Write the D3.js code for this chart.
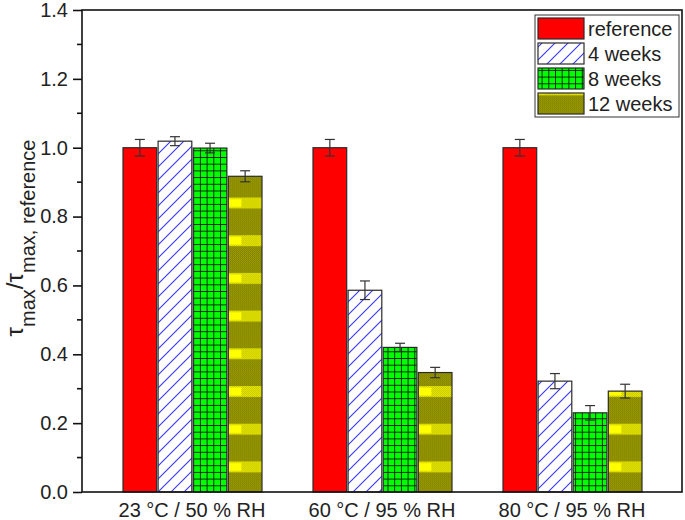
<!DOCTYPE html>
<html><head><meta charset="utf-8">
<script src="https://cdn.jsdelivr.net/npm/d3@7"></script>
<style>body{margin:0;background:#fff}svg{display:block;font-family:"Liberation Sans",Arial,sans-serif}</style>
</head><body><svg id="c" width="685" height="520"></svg>
<script>
const categories = ["23 °C / 50 % RH", "60 °C / 95 % RH", "80 °C / 95 % RH"];
const series = ["reference", "4 weeks", "8 weeks", "12 weeks"];
const refVals = [1.0, 1.0, 1.0];
const refErr = [0.024, 0.024, 0.024];
const w4Vals = [1.019, 0.586, 0.322];
const w4Err = [0.013, 0.027, 0.022];
const w8Vals = [0.999, 0.42, 0.23];
const w8Err = [0.014, 0.012, 0.021];
const w12Vals = [0.917, 0.347, 0.293];
const w12Err = [0.016, 0.015, 0.02];
const yTicks = [0, 0.2, 0.4, 0.6, 0.8, 1.0, 1.2, 1.4];

const valsBySeries = [refVals, w4Vals, w8Vals, w12Vals];
const errsBySeries = [refErr, w4Err, w8Err, w12Err];

const svg = d3.select("#c");
const L = 82, R = 682, T = 10, B = 492;

const y = d3.scaleLinear().domain([0, 1.4]).range([B, T]);
const x0 = d3.scaleBand().domain(categories).range([97, 667]).padding(0);
const x1 = d3.scaleBand().domain(series).range([26, 165]).paddingInner(0.04);

const defs = svg.append("defs");
// 8 weeks grid
const gs = 6.7;
const pg = defs.append("pattern").attr("id", "grid").attr("patternUnits", "userSpaceOnUse")
  .attr("width", gs).attr("height", gs).attr("x", x0(categories[0]) + x1("8 weeks")).attr("y", B);
pg.append("rect").attr("width", gs).attr("height", gs).attr("fill", "#00ff00");
pg.append("path").attr("d", `M0,0.5 H${gs} M0.5,0 V${gs}`).attr("stroke", "#111").attr("stroke-width", 0.9);
// dithers
const pd = defs.append("pattern").attr("id", "dith").attr("patternUnits", "userSpaceOnUse").attr("width", 2).attr("height", 2);
pd.append("rect").attr("width", 2).attr("height", 2).attr("fill", "#b4b400");
pd.append("rect").attr("width", 1).attr("height", 1).attr("fill", "#6a6a00");
pd.append("rect").attr("x", 1).attr("y", 1).attr("width", 1).attr("height", 1).attr("fill", "#6a6a00");
const pdy = defs.append("pattern").attr("id", "dithY").attr("patternUnits", "userSpaceOnUse").attr("width", 2).attr("height", 2);
pdy.append("rect").attr("width", 2).attr("height", 2).attr("fill", "#ffff00");
pdy.append("rect").attr("width", 1).attr("height", 1).attr("fill", "#b0b000");
pdy.append("rect").attr("x", 1).attr("y", 1).attr("width", 1).attr("height", 1).attr("fill", "#b0b000");
const stripeP = 37.7, tileW = x0.step() / 5;
const p12 = defs.append("pattern").attr("id", "olive").attr("patternUnits", "userSpaceOnUse")
  .attr("width", tileW).attr("height", stripeP)
  .attr("x", x0(categories[0]) + x1("12 weeks")).attr("y", 197.5);
p12.append("rect").attr("width", tileW).attr("height", stripeP).attr("fill", "url(#dith)");
p12.append("rect").attr("y", 0).attr("width", tileW).attr("height", 11).attr("fill", "url(#dithY)");
p12.append("rect").attr("y", 1.5).attr("width", 13).attr("height", 8).attr("fill", "#ffff00");

const fills = { "reference": "#ff0000", "4 weeks": "#ffffff", "8 weeks": "url(#grid)", "12 weeks": "url(#olive)" };

// hatch helper: blue "/" lines clipped to a rect
let clipN = 0;
function hatch(parent, x, yTop, w, h) {
  const id = "hc" + (clipN++);
  defs.append("clipPath").attr("id", id).append("rect").attr("x", x).attr("y", yTop).attr("width", w).attr("height", h);
  const sp = 13;
  const lo = x + yTop, hi = x + w + yTop + h;
  const offs = d3.range(Math.floor(lo / sp) * sp, hi + sp, sp);
  parent.append("g").attr("clip-path", `url(#${id})`).selectAll("line").data(offs).join("line")
    .attr("x1", d => d - yTop - h - 5).attr("y1", yTop + h + 5)
    .attr("x2", d => d - yTop + 5).attr("y2", yTop - 5)
    .attr("stroke", "#3434f4").attr("stroke-width", 1.1);
}

// bars
const data = [];
categories.forEach((c, ci) => series.forEach((s, si) => data.push({ c, s, v: valsBySeries[si][ci], e: errsBySeries[si][ci] })));
const g = svg.append("g");
const bx = d => x0(d.c) + x1(d.s);
g.selectAll("rect.bar").data(data).join("rect").attr("class", "bar")
  .attr("x", bx).attr("width", x1.bandwidth())
  .attr("y", d => y(d.v)).attr("height", d => y(0) - y(d.v))
  .attr("fill", d => fills[d.s]);
data.filter(d => d.s === "4 weeks").forEach(d => hatch(g, bx(d), y(d.v), x1.bandwidth(), y(0) - y(d.v)));
g.selectAll("rect.bord").data(data).join("rect").attr("class", "bord")
  .attr("x", bx).attr("width", x1.bandwidth())
  .attr("y", d => y(d.v)).attr("height", d => y(0) - y(d.v))
  .attr("fill", "none").attr("stroke", "#2a2a2a").attr("stroke-width", 1.2);
// error bars
const eb = g.selectAll("g.err").data(data).join("g").attr("class", "err")
  .attr("stroke", "#333").attr("stroke-width", 1.2).attr("fill", "none");
const cx = d => bx(d) + x1.bandwidth() / 2;
eb.append("line").attr("x1", cx).attr("x2", cx).attr("y1", d => y(d.v + d.e)).attr("y2", d => y(d.v - d.e));
eb.append("line").attr("x1", d => cx(d) - 5).attr("x2", d => cx(d) + 5).attr("y1", d => y(d.v + d.e)).attr("y2", d => y(d.v + d.e));
eb.append("line").attr("x1", d => cx(d) - 5).attr("x2", d => cx(d) + 5).attr("y1", d => y(d.v - d.e)).attr("y2", d => y(d.v - d.e));

// frame
svg.append("rect").attr("x", L).attr("y", T).attr("width", R - L).attr("height", B - T)
  .attr("fill", "none").attr("stroke", "#111").attr("stroke-width", 1.6);

// y axis
const yAx = svg.append("g").attr("transform", `translate(${L},0)`)
  .call(d3.axisLeft(y).tickValues(yTicks).tickFormat(d3.format(".1f")).tickSize(9).tickPadding(5));
yAx.select(".domain").remove();
yAx.selectAll("line").attr("stroke", "#111").attr("stroke-width", 1.6);
yAx.selectAll("text").attr("font-size", 20).attr("fill", "#222").attr("font-family", '"Liberation Sans",Arial,sans-serif');
const minor = d3.range(0.1, 1.4, 0.2);
svg.append("g").selectAll("line").data(minor).join("line")
  .attr("x1", L - 5).attr("x2", L).attr("y1", d => y(d)).attr("y2", d => y(d))
  .attr("stroke", "#111").attr("stroke-width", 1.6);

// x labels
const xAx = svg.append("g").attr("transform", `translate(0,${B})`)
  .call(d3.axisBottom(x0).tickSize(0).tickPadding(11));
xAx.select(".domain").remove();
xAx.selectAll("text").attr("font-size", 20).attr("fill", "#222").attr("font-family", '"Liberation Sans",Arial,sans-serif');

// y label
const yl = svg.append("text").attr("transform", "translate(23,238) rotate(-90)")
  .attr("text-anchor", "middle").attr("fill", "#222");
yl.append("tspan").attr("font-size", 24).text("τ");
yl.append("tspan").attr("font-size", 20).attr("dy", 12).text("max");
yl.append("tspan").attr("font-size", 24).attr("dy", -12).text("/τ");
yl.append("tspan").attr("font-size", 20).attr("dy", 12).text("max, reference");

// legend
const lg = svg.append("g");
lg.append("rect").attr("x", 535).attr("y", 15).attr("width", 144).attr("height", 102)
  .attr("fill", "#fff").attr("stroke", "#333").attr("stroke-width", 1);
series.forEach((s, i) => {
  const sy = 18 + i * 25;
  lg.append("rect").attr("x", 538).attr("y", sy).attr("width", 46).attr("height", 21).attr("fill", fills[s]);
  if (s === "4 weeks") hatch(lg, 538, sy, 46, 21);
  lg.append("rect").attr("x", 538).attr("y", sy).attr("width", 46).attr("height", 21)
    .attr("fill", "none").attr("stroke", "#2a2a2a").attr("stroke-width", 1.2);
  lg.append("text").attr("x", 588).attr("y", 36 + i * 25).attr("font-size", 20).attr("fill", "#222").text(s);
});
</script></body></html>
